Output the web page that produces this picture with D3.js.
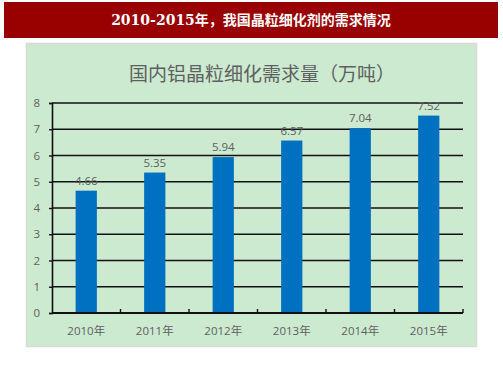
<!DOCTYPE html>
<html>
<head>
<meta charset="utf-8">
<script src="https://cdn.jsdelivr.net/npm/d3@7"></script>
<style>
  body { margin: 0; background: #fff; }
  svg { display: block; }
</style>
</head>
<body>
<div id="chart"></div>
<script>
var years = ['2010年', '2011年', '2012年', '2013年', '2014年', '2015年'];
var demand = [4.66, 5.35, 5.94, 6.57, 7.04, 7.52];
var yTicks = [0, 1, 2, 3, 4, 5, 6, 7, 8];
var headerText = '2010-2015年，我国晶粒细化剂的需求情况';
var chartTitle = '国内铝晶粒细化需求量（万吨）';

var width = 503, height = 378;
var plot = {left: 52, right: 463, top: 103, bottom: 313};
var grey = '#5f5f5f';

var svg = d3.select('#chart')
    .append('svg')
    .attr('width', width)
    .attr('height', height);

// red header band
svg.append('rect')
    .attr('x', 4).attr('y', 2)
    .attr('width', 494).attr('height', 36)
    .attr('fill', '#990000');
svg.append('text')
    .attr('x', 251).attr('y', 25)
    .attr('text-anchor', 'middle')
    .attr('fill', '#fff')
    .style('font-family', '"DejaVu Serif", "Noto Sans CJK SC", serif')
    .style('font-weight', 'bold')
    .style('font-size', '14px')
    .text(headerText);

// green chart panel
svg.append('rect')
    .attr('x', 26.5).attr('y', 43.5)
    .attr('width', 450).attr('height', 303)
    .attr('fill', '#cbeacf')
    .attr('stroke', '#d9d9d9')
    .attr('stroke-width', 1.5);

svg.append('text')
    .attr('x', 262).attr('y', 81)
    .attr('text-anchor', 'middle')
    .attr('fill', grey)
    .style('font-family', '"Noto Sans CJK SC", sans-serif')
    .style('font-size', '19px')
    .text(chartTitle);

var x = d3.scaleBand()
    .domain(years)
    .range([plot.left, plot.right])
    .paddingInner(0.69)
    .paddingOuter(0.345);

var y = d3.scaleLinear()
    .domain([0, 8])
    .range([plot.bottom, plot.top]);

// gridlines
svg.append('g')
    .selectAll('line')
    .data(yTicks.filter(d => d > 0))
    .enter()
    .append('line')
    .attr('x1', plot.left).attr('x2', plot.right)
    .attr('y1', d => y(d)).attr('y2', d => y(d))
    .attr('stroke', '#111')
    .attr('stroke-width', 1.5);

// y axis
var yAxis = svg.append('g')
    .attr('transform', 'translate(' + plot.left + ',0)')
    .call(d3.axisLeft(y).tickValues(yTicks).tickSize(3).tickPadding(9));
yAxis.select('.domain').attr('stroke', '#111').attr('stroke-width', 1.6);
yAxis.selectAll('.tick line').attr('stroke', '#111').attr('stroke-width', 1.4);
yAxis.selectAll('text')
    .attr('fill', grey)
    .style('font-family', '"Open Sans", "Noto Sans", sans-serif')
    .style('font-size', '11.5px');

// bars
svg.append('g')
    .selectAll('rect')
    .data(demand)
    .enter()
    .append('rect')
    .attr('x', (d, i) => x(years[i]))
    .attr('y', d => y(d))
    .attr('width', x.bandwidth())
    .attr('height', d => y(0) - y(d))
    .attr('fill', '#0070c0');

// value labels
svg.append('g')
    .selectAll('text')
    .data(demand)
    .enter()
    .append('text')
    .attr('x', (d, i) => x(years[i]) + x.bandwidth() / 2)
    .attr('y', d => y(d) - 6)
    .attr('text-anchor', 'middle')
    .attr('fill', grey)
    .style('font-family', '"Open Sans", "Noto Sans", sans-serif')
    .style('font-size', '11.5px')
    .text(d => d.toFixed(2));

// x axis: ticks at category boundaries pointing up
var boundaries = d3.range(years.length + 1).map(i => plot.left + i * (plot.right - plot.left) / years.length);
svg.append('g')
    .selectAll('line')
    .data(boundaries.slice(1))
    .enter()
    .append('line')
    .attr('x1', d => d).attr('x2', d => d)
    .attr('y1', plot.bottom - 4).attr('y2', plot.bottom)
    .attr('stroke', '#111')
    .attr('stroke-width', 1.4);
svg.append('line')
    .attr('x1', plot.left).attr('x2', plot.right)
    .attr('y1', plot.bottom).attr('y2', plot.bottom)
    .attr('stroke', '#111')
    .attr('stroke-width', 2);

svg.append('g')
    .selectAll('text')
    .data(years)
    .enter()
    .append('text')
    .attr('x', d => x(d) + x.bandwidth() / 2)
    .attr('y', plot.bottom + 22)
    .attr('text-anchor', 'middle')
    .attr('fill', grey)
    .style('font-family', '"Open Sans", "Noto Sans CJK SC", sans-serif')
    .style('font-size', '11.5px')
    .text(d => d);
</script>
</body>
</html>
